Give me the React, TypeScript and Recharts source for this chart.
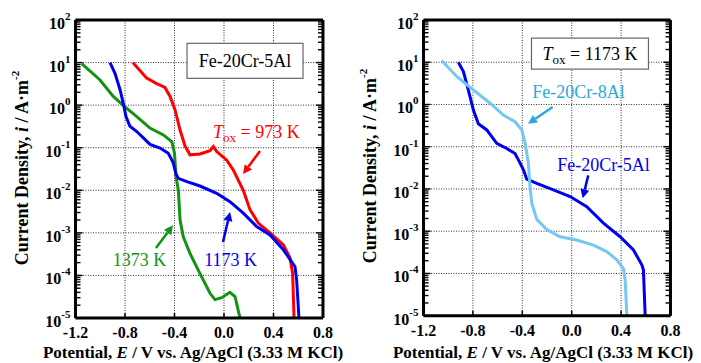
import React from "react";
import {
  CartesianGrid,
  Line,
  LineChart,
  ReferenceDot,
  ReferenceLine,
  XAxis,
  YAxis,
} from "recharts";

const FONT = "'Liberation Serif', 'Times New Roman', serif";

// potential E (V) and current density i (A/m^2)
const e973 = [-0.737, -0.625, -0.544, -0.477, -0.436, -0.396, -0.355, -0.315, -0.275, -0.194, -0.113, -0.086, -0.059, 0.022, 0.075, 0.116, 0.156, 0.21, 0.277, 0.372, 0.48, 0.533, 0.555, 0.566];
const i973 = [10, 4.3, 3.2, 2.6, 1.6, 0.78, 0.26, 0.11, 0.068, 0.071, 0.085, 0.107, 0.081, 0.051, 0.03, 0.017, 0.01, 0.0035, 0.0017, 0.001, 0.00052, 0.00026, 0.00011, 0.00001];

const e1173 = [-0.921, -0.881, -0.84, -0.814, -0.792, -0.76, -0.705, -0.652, -0.598, -0.517, -0.45, -0.41, -0.39, -0.369, -0.3, -0.194, -0.059, 0.048, 0.156, 0.264, 0.372, 0.48, 0.574, 0.587, 0.606];
const i1173 = [10, 5.6, 2.3, 1.1, 0.54, 0.32, 0.24, 0.17, 0.12, 0.098, 0.074, 0.044, 0.025, 0.019, 0.016, 0.0126, 0.0085, 0.0054, 0.0029, 0.0014, 0.00089, 0.0004, 0.00016, 0.000079, 0.00001];

const e1373 = [-1.15, -1.002, -0.895, -0.8, -0.705, -0.598, -0.49, -0.422, -0.4, -0.388, -0.369, -0.355, -0.329, -0.275, -0.194, -0.113, -0.073, -0.019, 0.048, 0.089, 0.107, 0.129];
const i1373 = [9.5, 3.9, 1.6, 0.91, 0.54, 0.29, 0.2, 0.14, 0.074, 0.021, 0.01, 0.002, 0.00081, 0.00033, 0.00011, 0.000038, 0.000027, 0.00003, 0.00004, 0.000032, 0.000019, 0.00001];

const e5Al = [-0.918, -0.877, -0.837, -0.796, -0.756, -0.688, -0.607, -0.526, -0.459, -0.418, -0.39, -0.364, -0.283, -0.148, -0.013, 0.122, 0.257, 0.392, 0.5, 0.568, 0.581, 0.595];
const i5Al = [10, 6.0, 2.2, 0.74, 0.35, 0.25, 0.12, 0.091, 0.069, 0.041, 0.028, 0.017, 0.0135, 0.0095, 0.0066, 0.0038, 0.00155, 0.00074, 0.00036, 0.00016, 0.00012, 0.00001];

const e8Al = [-1.053, -0.931, -0.796, -0.661, -0.553, -0.459, -0.404, -0.377, -0.351, -0.337, -0.323, -0.283, -0.202, -0.094, 0.041, 0.176, 0.284, 0.365, 0.419, 0.433, 0.447];
const i8Al = [11, 4.6, 2.2, 1.07, 0.56, 0.39, 0.25, 0.12, 0.041, 0.011, 0.0046, 0.0019, 0.0011, 0.00074, 0.00062, 0.00047, 0.00033, 0.00021, 0.00013, 0.00007, 0.00001];

const xTicks = [-1.2, -0.8, -0.4, 0, 0.4, 0.8];
const xMinorTicks = [-1.2, -1.0, -0.8, -0.6, -0.4, -0.2, 0, 0.2, 0.4, 0.6, 0.8];
const xTickLabels = ["-1.2", "-0.8", "-0.4", "0.0", "0.4", "0.8"];
const yTicks = [1e-5, 1e-4, 1e-3, 1e-2, 1e-1, 1, 10, 100];
const yMinorTicks = [
  2e-5, 3e-5, 4e-5, 5e-5, 6e-5, 7e-5, 8e-5, 9e-5,
  2e-4, 3e-4, 4e-4, 5e-4, 6e-4, 7e-4, 8e-4, 9e-4,
  2e-3, 3e-3, 4e-3, 5e-3, 6e-3, 7e-3, 8e-3, 9e-3,
  0.02, 0.03, 0.04, 0.05, 0.06, 0.07, 0.08, 0.09,
  0.2, 0.3, 0.4, 0.5, 0.6, 0.7, 0.8, 0.9,
  2, 3, 4, 5, 6, 7, 8, 9,
  20, 30, 40, 50, 60, 70, 80, 90,
];

const toRows = (es: number[], is: number[]) => es.map((e, k) => ({ e, i: is[k] }));

const RED = "#ff0000";
const GREEN = "#139313";
const BLUE = "#0000f0";
const LIGHT = "#74c8f2";
const LIGHT_TEXT = "#2aa8e2";
const THIN = 0.01; // axes take no room; margins hold the labels

// tick marks are drawn by the tick renderers so they can point inward
function YTickLeft({ x, y, payload, len, label }: any) {
  const exp = Math.round(Math.log10(payload.value));
  return (
    <g>
      <line x1={x} y1={y} x2={x + len} y2={y} stroke='#000' strokeWidth={1.4} />
      {label && (
        <text x={x - 5} y={y} dy={9} textAnchor='end' fontFamily={FONT} fontWeight='bold' fontSize={16} fill='#000'>
          10
          <tspan dy={-9} fontSize={11}>
            {exp}
          </tspan>
        </text>
      )}
    </g>
  );
}

function YTickRight({ x, y, len }: any) {
  return <line x1={x} y1={y} x2={x - len} y2={y} stroke='#000' strokeWidth={1.4} />;
}

function XTickBottom({ x, y, payload, label }: any) {
  const idx = xTicks.indexOf(payload.value);
  return (
    <g>
      <line x1={x} y1={y} x2={x} y2={y - 5} stroke='#000' strokeWidth={1.5} />
      {label && (
        <text x={x} y={y} dy={20.5} textAnchor='middle' fontFamily={FONT} fontWeight='bold' fontSize={16} fill='#000'>
          {xTickLabels[idx] ?? payload.value}
        </text>
      )}
    </g>
  );
}

function XTickTop({ x, y }: any) {
  return <line x1={x} y1={y} x2={x} y2={y + 5} stroke='#000' strokeWidth={1.5} />;
}

function axes() {
  const common = { allowDataOverflow: true, tickSize: 0, tickMargin: 0, interval: 0 as const, tickLine: false } as const;
  const frame = { stroke: "#000", strokeWidth: 3 };
  const xd: [number, number] = [-1.2, 0.8];
  const yd: [number, number] = [1e-5, 100];
  return [
    <XAxis key='xb' xAxisId={0} type='number' dataKey='e' domain={xd} ticks={xTicks} height={THIN}
      tick={(p: any) => <XTickBottom {...p} label />} axisLine={frame} {...common} />,
    <XAxis key='xbm' xAxisId='bm' type='number' domain={xd} ticks={xMinorTicks} height={THIN}
      tick={(p: any) => <XTickBottom {...p} />} axisLine={false} {...common} />,
    <XAxis key='xt' xAxisId='top' orientation='top' type='number' domain={xd} ticks={xMinorTicks} height={THIN}
      tick={(p: any) => <XTickTop {...p} />} axisLine={frame} {...common} />,
    <YAxis key='yl' yAxisId={0} type='number' scale='log' domain={yd} ticks={yTicks} width={THIN}
      tick={(p: any) => <YTickLeft {...p} len={7} label />} axisLine={frame} {...common} />,
    <YAxis key='ylm' yAxisId='lm' type='number' scale='log' domain={yd} ticks={yMinorTicks} width={THIN}
      tick={(p: any) => <YTickLeft {...p} len={5} />} axisLine={false} {...common} />,
    <YAxis key='yr' yAxisId='r' orientation='right' type='number' scale='log' domain={yd} ticks={yTicks} width={THIN}
      tick={(p: any) => <YTickRight {...p} len={7} />} axisLine={frame} {...common} />,
    <YAxis key='yrm' yAxisId='rm' orientation='right' type='number' scale='log' domain={yd} ticks={yMinorTicks} width={THIN}
      tick={(p: any) => <YTickRight {...p} len={5} />} axisLine={false} {...common} />,
  ];
}

function Arrow({ x1, y1, x2, y2, color }: any) {
  const ang = Math.atan2(y2 - y1, x2 - x1);
  const len = 9;
  const w = 4.5;
  const bx = x2 - len * Math.cos(ang);
  const by = y2 - len * Math.sin(ang);
  const px = -Math.sin(ang) * w;
  const py = Math.cos(ang) * w;
  return (
    <g>
      <line x1={x1} y1={y1} x2={bx} y2={by} stroke={color} strokeWidth={2.5} />
      <polygon points={`${x2},${y2} ${bx + px},${by + py} ${bx - px},${by - py}`} fill={color} />
    </g>
  );
}

function Boxed({ cx, cy, w, h, children }: any) {
  return (
    <g>
      <rect x={cx - w / 2} y={cy - h / 2} width={w} height={h} fill='#fff' stroke='#666' strokeWidth={1.2} />
      <text x={cx} y={cy + 6} textAnchor='middle' fontFamily={FONT} fontSize={18} fill='#000'>
        {children}
      </text>
    </g>
  );
}

function Tox({ value }: { value: string }) {
  return (
    <>
      <tspan fontStyle='italic'>T</tspan>
      <tspan fontSize={13} dy={4}>ox</tspan>
      <tspan dy={-4}>{` = ${value}`}</tspan>
    </>
  );
}

function Note({ cx, cy, color, anchor = "middle", children }: any) {
  return (
    <text x={cx} y={cy} textAnchor={anchor} fontFamily={FONT} fontSize={18} fill={color}>
      {children}
    </text>
  );
}

function LeftPanel() {
  return (
    <LineChart width={350} height={363} margin={{ top: 20, left: 75.5, right: 27, bottom: 45 }}>
      <CartesianGrid stroke='#333' strokeDasharray='1 1.5' strokeWidth={1} />
      {axes()}
      <Line data={toRows(e973, i973)} dataKey='i' stroke={RED} strokeWidth={3} dot={false} isAnimationActive={false} />
      <Line data={toRows(e1373, i1373)} dataKey='i' stroke={GREEN} strokeWidth={3} dot={false} isAnimationActive={false} />
      <Line data={toRows(e1173, i1173)} dataKey='i' stroke={BLUE} strokeWidth={3} dot={false} isAnimationActive={false} />
      <ReferenceDot x={0.17} y={11} ifOverflow='visible'
        shape={(p: any) => <Boxed cx={p.cx} cy={p.cy} w={116} h={35}>Fe-20Cr-5Al</Boxed>} />
      <ReferenceDot x={-0.089} y={0.17} ifOverflow='visible'
        shape={(p: any) => (
          <Note cx={p.cx} cy={p.cy} color={RED} anchor='start'>
            <Tox value='973 K' />
          </Note>
        )} />
      <ReferenceLine segment={[{ x: 0.291, y: 0.084 }, { x: 0.154, y: 0.024 }]} ifOverflow='visible'
        shape={(p: any) => <Arrow {...p} color={RED} />} />
      <ReferenceDot x={-0.683} y={1.66e-4} ifOverflow='visible'
        shape={(p: any) => <Note cx={p.cx} cy={p.cy} color={GREEN}>1373 K</Note>} />
      <ReferenceLine segment={[{ x: -0.55, y: 4.4e-4 }, { x: -0.412, y: 1.5e-3 }]} ifOverflow='visible'
        shape={(p: any) => <Arrow {...p} color={GREEN} />} />
      <ReferenceDot x={0.053} y={1.66e-4} ifOverflow='visible'
        shape={(p: any) => <Note cx={p.cx} cy={p.cy} color={BLUE}>1173 K</Note>} />
      <ReferenceLine segment={[{ x: -0.008, y: 6.1e-4 }, { x: 0.049, y: 3.1e-3 }]} ifOverflow='visible'
        shape={(p: any) => <Arrow {...p} color={BLUE} />} />
    </LineChart>
  );
}

function RightPanel() {
  return (
    <LineChart width={351} height={363} margin={{ top: 20, left: 73.5, right: 30.5, bottom: 47.3 }}>
      <CartesianGrid stroke='#333' strokeDasharray='1 1.5' strokeWidth={1} />
      {axes()}
      <Line data={toRows(e5Al, i5Al)} dataKey='i' stroke={BLUE} strokeWidth={3} dot={false} isAnimationActive={false} />
      <Line data={toRows(e8Al, i8Al)} dataKey='i' stroke={LIGHT} strokeWidth={3} dot={false} isAnimationActive={false} />
      <ReferenceDot x={0.148} y={16} ifOverflow='visible'
        shape={(p: any) => (
          <Boxed cx={p.cx} cy={p.cy} w={117} h={31}>
            <Tox value='1173 K' />
          </Boxed>
        )} />
      <ReferenceDot x={0.055} y={1.43} ifOverflow='visible'
        shape={(p: any) => <Note cx={p.cx} cy={p.cy} color={LIGHT_TEXT}>Fe-20Cr-8Al</Note>} />
      <ReferenceLine segment={[{ x: -0.154, y: 0.87 }, { x: -0.354, y: 0.35 }]} ifOverflow='visible'
        shape={(p: any) => <Arrow {...p} color={LIGHT_TEXT} />} />
      <ReferenceDot x={0.258} y={0.0267} ifOverflow='visible'
        shape={(p: any) => <Note cx={p.cx} cy={p.cy} color={BLUE}>Fe-20Cr-5Al</Note>} />
      <ReferenceLine segment={[{ x: 0.134, y: 0.021 }, { x: 0.089, y: 0.006 }]} ifOverflow='visible'
        shape={(p: any) => <Arrow {...p} color={BLUE} />} />
    </LineChart>
  );
}

function Titles() {
  const yTitle = (x: number, y: number) => (
    <text x={x} y={y} transform={`rotate(-90 ${x} ${y})`} textAnchor='middle' dominantBaseline='central'
      fontFamily={FONT} fontWeight='bold' fontSize={18} fill='#000'>
      Current Density, <tspan fontStyle='italic'>i</tspan> / A·m
      <tspan dy={-7} fontSize={11}>-2</tspan>
    </text>
  );
  const xTitle = (x: number) => (
    <text x={x} y={358} textAnchor='middle' fontFamily={FONT} fontWeight='bold' fontSize={17} fill='#000'>
      Potential, <tspan fontStyle='italic'>E</tspan> / V vs. Ag/AgCl (3.33 M KCl)
    </text>
  );
  return (
    <svg width={701} height={363} style={{ position: "absolute", left: 0, top: 0, pointerEvents: "none" }}>
      {yTitle(22, 168)}
      {yTitle(370, 166)}
      {xTitle(193)}
      {xTitle(543)}
    </svg>
  );
}

export default function App() {
  return (
    <div style={{ position: "absolute", left: 0, top: 0, width: 701, height: 363, background: "#fff" }}>
      <div style={{ position: "absolute", left: 0, top: 0 }}>
        <LeftPanel />
      </div>
      <div style={{ position: "absolute", left: 350, top: 0 }}>
        <RightPanel />
      </div>
      <Titles />
    </div>
  );
}
